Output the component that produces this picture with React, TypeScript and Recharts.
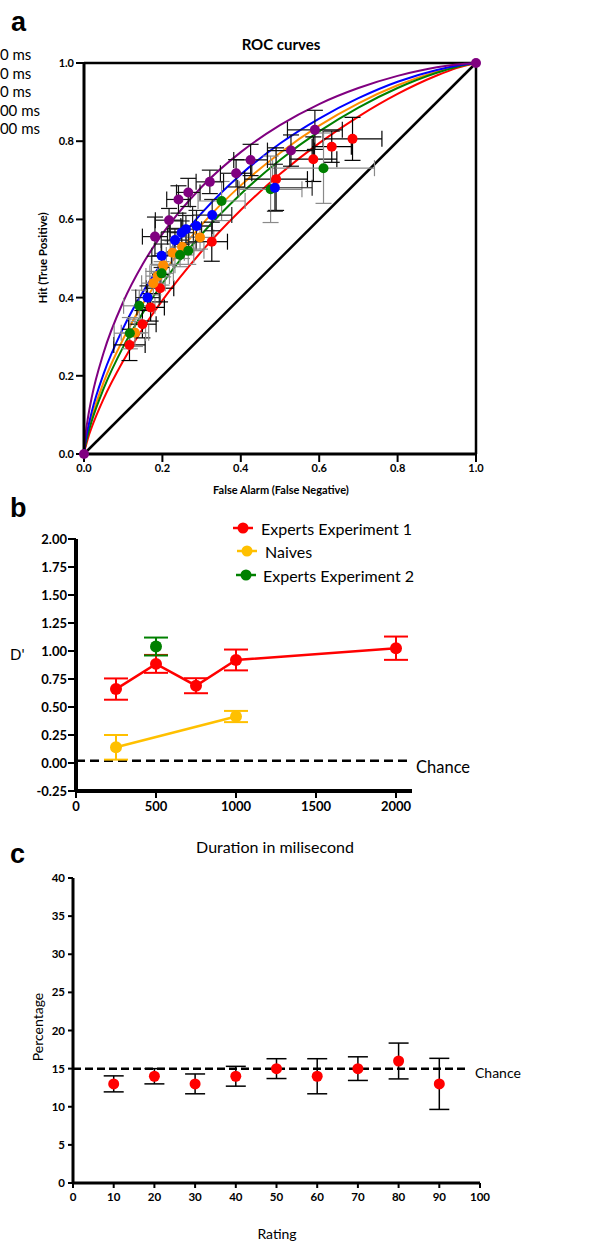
import React from 'react';
import { ComposedChart, Line, Scatter, XAxis, YAxis, ErrorBar, ReferenceLine } from 'recharts';

const FONT = 'Lato, "Open Sans", sans-serif';

// ---- panel a: ROC curves (hit rate read along false alarm rate) ----
const rocX = [0, 0.001, 0.005, 0.01, 0.02, 0.05, 0.1, 0.15, 0.2, 0.3, 0.4, 0.5, 0.6, 0.7, 0.8, 0.9, 0.95, 1];
const rocRed = [0, 0.006, 0.022, 0.04, 0.069, 0.141, 0.238, 0.321, 0.393, 0.518, 0.624, 0.716, 0.795, 0.863, 0.921, 0.968, 0.987, 1];
const rocGreen = [0, 0.008, 0.029, 0.05, 0.085, 0.167, 0.274, 0.361, 0.436, 0.562, 0.665, 0.752, 0.825, 0.886, 0.936, 0.975, 0.99, 1];
const rocOrange = [0, 0.009, 0.033, 0.056, 0.094, 0.183, 0.294, 0.384, 0.459, 0.586, 0.687, 0.77, 0.84, 0.897, 0.943, 0.978, 0.991, 1];
const rocBlue = [0, 0.012, 0.04, 0.066, 0.109, 0.205, 0.322, 0.414, 0.491, 0.616, 0.715, 0.794, 0.858, 0.91, 0.952, 0.982, 0.993, 1];
const rocPurple = [0, 0.018, 0.058, 0.092, 0.146, 0.259, 0.389, 0.486, 0.563, 0.683, 0.772, 0.841, 0.895, 0.936, 0.967, 0.989, 0.996, 1];
const chanceX = [0, 1];

// observed points: [false alarm, hit, x error, y error]
const redPts = [
  [0.685, 0.806, 0.075, 0.055], [0.632, 0.786, 0.05, 0.04], [0.585, 0.754, 0.06, 0.057],
  [0.49, 0.703, 0.08, 0.08], [0.326, 0.543, 0.04, 0.05], [0.194, 0.424, 0.035, 0.035],
  [0.17, 0.375, 0.035, 0.035], [0.149, 0.332, 0.035, 0.035], [0.116, 0.279, 0.04, 0.04],
];
const orangePts = [
  [0.296, 0.554, 0.035, 0.03], [0.25, 0.53, 0.03, 0.03], [0.226, 0.515, 0.03, 0.03],
  [0.202, 0.483, 0.03, 0.03], [0.188, 0.455, 0.03, 0.03], [0.177, 0.437, 0.03, 0.03],
  [0.13, 0.31, 0.035, 0.035],
];
const greenPts = [
  [0.611, 0.731, 0.13, 0.09], [0.476, 0.677, 0.08, 0.085], [0.351, 0.647, 0.06, 0.05],
  [0.266, 0.52, 0.04, 0.035], [0.245, 0.509, 0.035, 0.03], [0.198, 0.462, 0.03, 0.03],
  [0.141, 0.379, 0.04, 0.04], [0.117, 0.309, 0.04, 0.04],
];
const bluePts = [
  [0.487, 0.681, 0.095, 0.06], [0.327, 0.611, 0.05, 0.04], [0.287, 0.583, 0.04, 0.04],
  [0.26, 0.575, 0.04, 0.035], [0.249, 0.566, 0.03, 0.03], [0.232, 0.547, 0.035, 0.03],
  [0.198, 0.507, 0.025, 0.03], [0.162, 0.4, 0.03, 0.03],
];
const purplePts = [
  [0.589, 0.829, 0.07, 0.05], [0.528, 0.776, 0.06, 0.04], [0.425, 0.752, 0.043, 0.04],
  [0.388, 0.718, 0.04, 0.035], [0.321, 0.696, 0.035, 0.03], [0.266, 0.669, 0.03, 0.036],
  [0.241, 0.651, 0.03, 0.035], [0.217, 0.598, 0.035, 0.03], [0.181, 0.556, 0.032, 0.05],
  [0, 0, 0, 0], [1, 1, 0, 0],
];
const durationLabels = ['250 ms', '500 ms', '750 ms', '1000 ms', '2000 ms'];
const rocTicks = [0, 0.2, 0.4, 0.6, 0.8, 1];

// ---- panel b: d' by duration ----
const durations = [250, 500, 750, 1000, 2000];
const expert1D = [0.66, 0.885, 0.69, 0.92, 1.025];
const expert1Err = [0.095, 0.08, 0.067, 0.093, 0.104];
const naiveDur = [250, 1000];
const naiveD = [0.14, 0.415];
const naiveErr = [0.11, 0.05];
const expert2Dur = [500];
const expert2D = [1.04];
const expert2Err = [0.08];
const dTicks = [-0.25, 0, 0.25, 0.5, 0.75, 1, 1.25, 1.5, 1.75, 2];
const durTicks = [0, 500, 1000, 1500, 2000];
const legendNames = ['Experts Experiment 1', 'Naives', 'Experts Experiment 2'];

// ---- panel c: percentage by rating ----
const ratings = [10, 20, 30, 40, 50, 60, 70, 80, 90];
const pct = [13, 14, 13, 14, 15, 14, 15, 16, 13];
const pctErr = [1.05, 1.0, 1.3, 1.3, 1.3, 2.3, 1.55, 2.35, 3.35];
const ratingTicks = [0, 10, 20, 30, 40, 50, 60, 70, 80, 90, 100];
const pctTicks = [0, 5, 10, 15, 20, 25, 30, 35, 40];

const curve = (ys: number[]) => rocX.map((x, i) => ({ x, y: ys[i] }));
const pts = (arr: number[][]) => arr.map(([x, y, ex, ey]) => ({ x, y, ex, ey }));

const dot = (color: string, r: number) => (p: any) => <circle cx={p.cx} cy={p.cy} r={r} fill={color} />;

const axisBlack = { stroke: '#000', strokeWidth: 3 };
const tickBlack = { stroke: '#000', strokeWidth: 2 };

const rocSeries = [
  { c: '#FF0000', curve: rocRed, pts: redPts, bar: '#000' },
  { c: '#FF8C00', curve: rocOrange, pts: orangePts, bar: '#8a8a8a' },
  { c: '#008000', curve: rocGreen, pts: greenPts, bar: '#8a8a8a' },
  { c: '#0000FF', curve: rocBlue, pts: bluePts, bar: '#222' },
  { c: '#800080', curve: rocPurple, pts: purplePts, bar: '#111' },
];

const PanelA = () => (
  <ComposedChart width={589} height={500} margin={{ top: 63, right: 113, left: 44, bottom: 16 }} style={{ position: 'absolute', left: 0, top: 0 }}>
    <XAxis type="number" dataKey="x" domain={[0, 1]} ticks={rocTicks} tickFormatter={(v) => v.toFixed(1)}
      axisLine={axisBlack} tickLine={tickBlack} tickSize={8} height={30}
      tick={{ fontSize: 11, fontWeight: 700, fill: '#000', fontFamily: FONT }} />
    <YAxis type="number" dataKey="y" domain={[0, 1]} ticks={rocTicks} tickFormatter={(v) => v.toFixed(1)}
      axisLine={axisBlack} tickLine={tickBlack} tickSize={8} width={40}
      tick={{ fontSize: 11, fontWeight: 700, fill: '#000', fontFamily: FONT }} />
    <ReferenceLine y={1} stroke="#000" strokeWidth={2.5} />
    <ReferenceLine x={1} stroke="#000" strokeWidth={2.5} />
    <Line data={chanceX.map((x) => ({ x, y: x }))} dataKey="y" stroke="#000" strokeWidth={2.5} dot={false} isAnimationActive={false} />
    {rocSeries.map((s, i) => (
      <Line key={'c' + i} data={curve(s.curve)} dataKey="y" type="monotone" stroke={s.c} strokeWidth={2} dot={false} isAnimationActive={false} />
    ))}
    {rocSeries.map((s, i) => (
      <Scatter key={'p' + i} data={pts(s.pts)} fill={s.c} shape={dot(s.c, 5)} isAnimationActive={false}>
        <ErrorBar dataKey="ex" direction="x" width={8} stroke={s.bar} strokeWidth={1.2} />
        <ErrorBar dataKey="ey" direction="y" width={8} stroke={s.bar} strokeWidth={1.2} />
      </Scatter>
    ))}
  </ComposedChart>
);

const dSeries = [
  { c: '#FF0000', x: durations, y: expert1D, e: expert1Err },
  { c: '#FFC000', x: naiveDur, y: naiveD, e: naiveErr },
  { c: '#008000', x: expert2Dur, y: expert2D, e: expert2Err },
];

const PanelB = () => (
  <ComposedChart width={589} height={340} margin={{ top: 39, right: 177, left: 26, bottom: 19 }} style={{ position: 'absolute', left: 0, top: 500 }}>
    <XAxis type="number" dataKey="x" domain={[0, 2100]} ticks={durTicks}
      axisLine={{ stroke: '#000', strokeWidth: 4 }} tickLine={tickBlack} tickSize={7} tickMargin={4} height={30}
      tick={{ fontSize: 13, fontWeight: 700, fill: '#000', fontFamily: FONT }} />
    <YAxis type="number" domain={[-0.25, 2]} ticks={dTicks} tickFormatter={(v) => v.toFixed(2)}
      axisLine={{ stroke: '#000', strokeWidth: 4 }} tickLine={tickBlack} tickSize={8} tickMargin={1} width={50}
      tick={{ fontSize: 13, fontWeight: 700, fill: '#000', fontFamily: FONT }} />
    <ReferenceLine y={0.02} stroke="#000" strokeWidth={2.5} strokeDasharray="9 5" />
    {dSeries.map((s, i) => (
      <Line key={i} data={s.x.map((x, j) => ({ x, y: s.y[j], e: s.e[j] }))} dataKey="y" stroke={s.c} strokeWidth={2.5}
        dot={{ r: 6, fill: s.c, stroke: s.c, strokeWidth: 0 }} activeDot={false} isAnimationActive={false}>
        <ErrorBar dataKey="e" direction="y" width={12} stroke={s.c} strokeWidth={2} />
      </Line>
    ))}
  </ComposedChart>
);

const PanelC = () => (
  <ComposedChart width={589} height={392} margin={{ top: 28, right: 109, left: 33, bottom: 29 }} style={{ position: 'absolute', left: 0, top: 850 }}>
    <XAxis type="number" dataKey="x" domain={[0, 100]} ticks={ratingTicks}
      axisLine={axisBlack} tickLine={tickBlack} tickSize={5} tickMargin={5} height={30}
      tick={{ fontSize: 11.5, fontWeight: 700, fill: '#000', fontFamily: FONT }} />
    <YAxis type="number" dataKey="y" domain={[0, 40]} ticks={pctTicks}
      axisLine={axisBlack} tickLine={tickBlack} tickSize={5} tickMargin={3} width={40}
      tick={{ fontSize: 11.5, fontWeight: 700, fill: '#000', fontFamily: FONT }} />
    <ReferenceLine segment={[{ x: 0, y: 15 }, { x: 97, y: 15 }]} stroke="#000" strokeWidth={2.5} strokeDasharray="8 4" />
    <Scatter data={ratings.map((x, i) => ({ x, y: pct[i], e: pctErr[i] }))} fill="#FF0000" shape={dot('#FF0000', 5.5)} isAnimationActive={false}>
      <ErrorBar dataKey="e" direction="y" width={10} stroke="#000" strokeWidth={1.5} />
    </Scatter>
  </ComposedChart>
);

const legendColors = ['#FF0000', '#FFC000', '#008000'];
const legendRows = [
  { y: 528, m: 243, t: 261 },
  { y: 551, m: 247, t: 265 },
  { y: 575, m: 246, t: 263 },
];

const Overlay = () => (
  <svg width={589} height={1242} style={{ position: 'absolute', left: 0, top: 0, pointerEvents: 'none' }} fontFamily={FONT}>
    <text x={11} y={31} fontSize={27} fontWeight={700} fontFamily="Liberation Sans, Arial, sans-serif">a</text>
    <text x={10} y={517} fontSize={27} fontWeight={700} fontFamily="Liberation Sans, Arial, sans-serif">b</text>
    <text x={10} y={863} fontSize={27} fontWeight={700} fontFamily="Liberation Sans, Arial, sans-serif">c</text>
    {durationLabels.map((l, i) => (
      <text key={l} x={-17.5} y={60 + i * 18.6} fontSize={15}>{l}</text>
    ))}
    <text x={281} y={44} fontSize={15} fontWeight={700} textAnchor="middle" dominantBaseline="central">ROC curves</text>
    <text x={281} y={489} fontSize={11} fontWeight={700} textAnchor="middle" dominantBaseline="central">False Alarm (False Negative)</text>
    <text transform="translate(42,258) rotate(-90)" fontSize={11.5} fontWeight={700} textAnchor="middle" dominantBaseline="central">Hit (True Positive)</text>
    {legendRows.map((r, i) => (
      <g key={i}>
        <line x1={r.m - 10} x2={r.m + 10} y1={r.y} y2={r.y} stroke={legendColors[i]} strokeWidth={2.5} />
        <circle cx={r.m} cy={r.y} r={5.5} fill={legendColors[i]} />
        <text x={r.t} y={r.y} fontSize={16} dominantBaseline="central">{legendNames[i]}</text>
      </g>
    ))}
    <text x={10} y={654} fontSize={15} dominantBaseline="central">D'</text>
    <text x={416} y={767} fontSize={16.5} dominantBaseline="central">Chance</text>
    <text x={275} y={846} fontSize={16} textAnchor="middle" dominantBaseline="central">Duration in milisecond</text>
    <text transform="translate(37,1027) rotate(-90)" fontSize={14} textAnchor="middle" dominantBaseline="central">Percentage</text>
    <text x={475} y={1072} fontSize={14} dominantBaseline="central">Chance</text>
    <text x={277} y={1233} fontSize={14} textAnchor="middle" dominantBaseline="central">Rating</text>
  </svg>
);

export default function App() {
  return (
    <div style={{ position: 'relative', width: 589, height: 1242, overflow: 'hidden', background: '#fff', fontFamily: FONT }}>
      <style>{'body{margin:0}'}</style>
      <PanelA />
      <PanelB />
      <PanelC />
      <Overlay />
    </div>
  );
}
